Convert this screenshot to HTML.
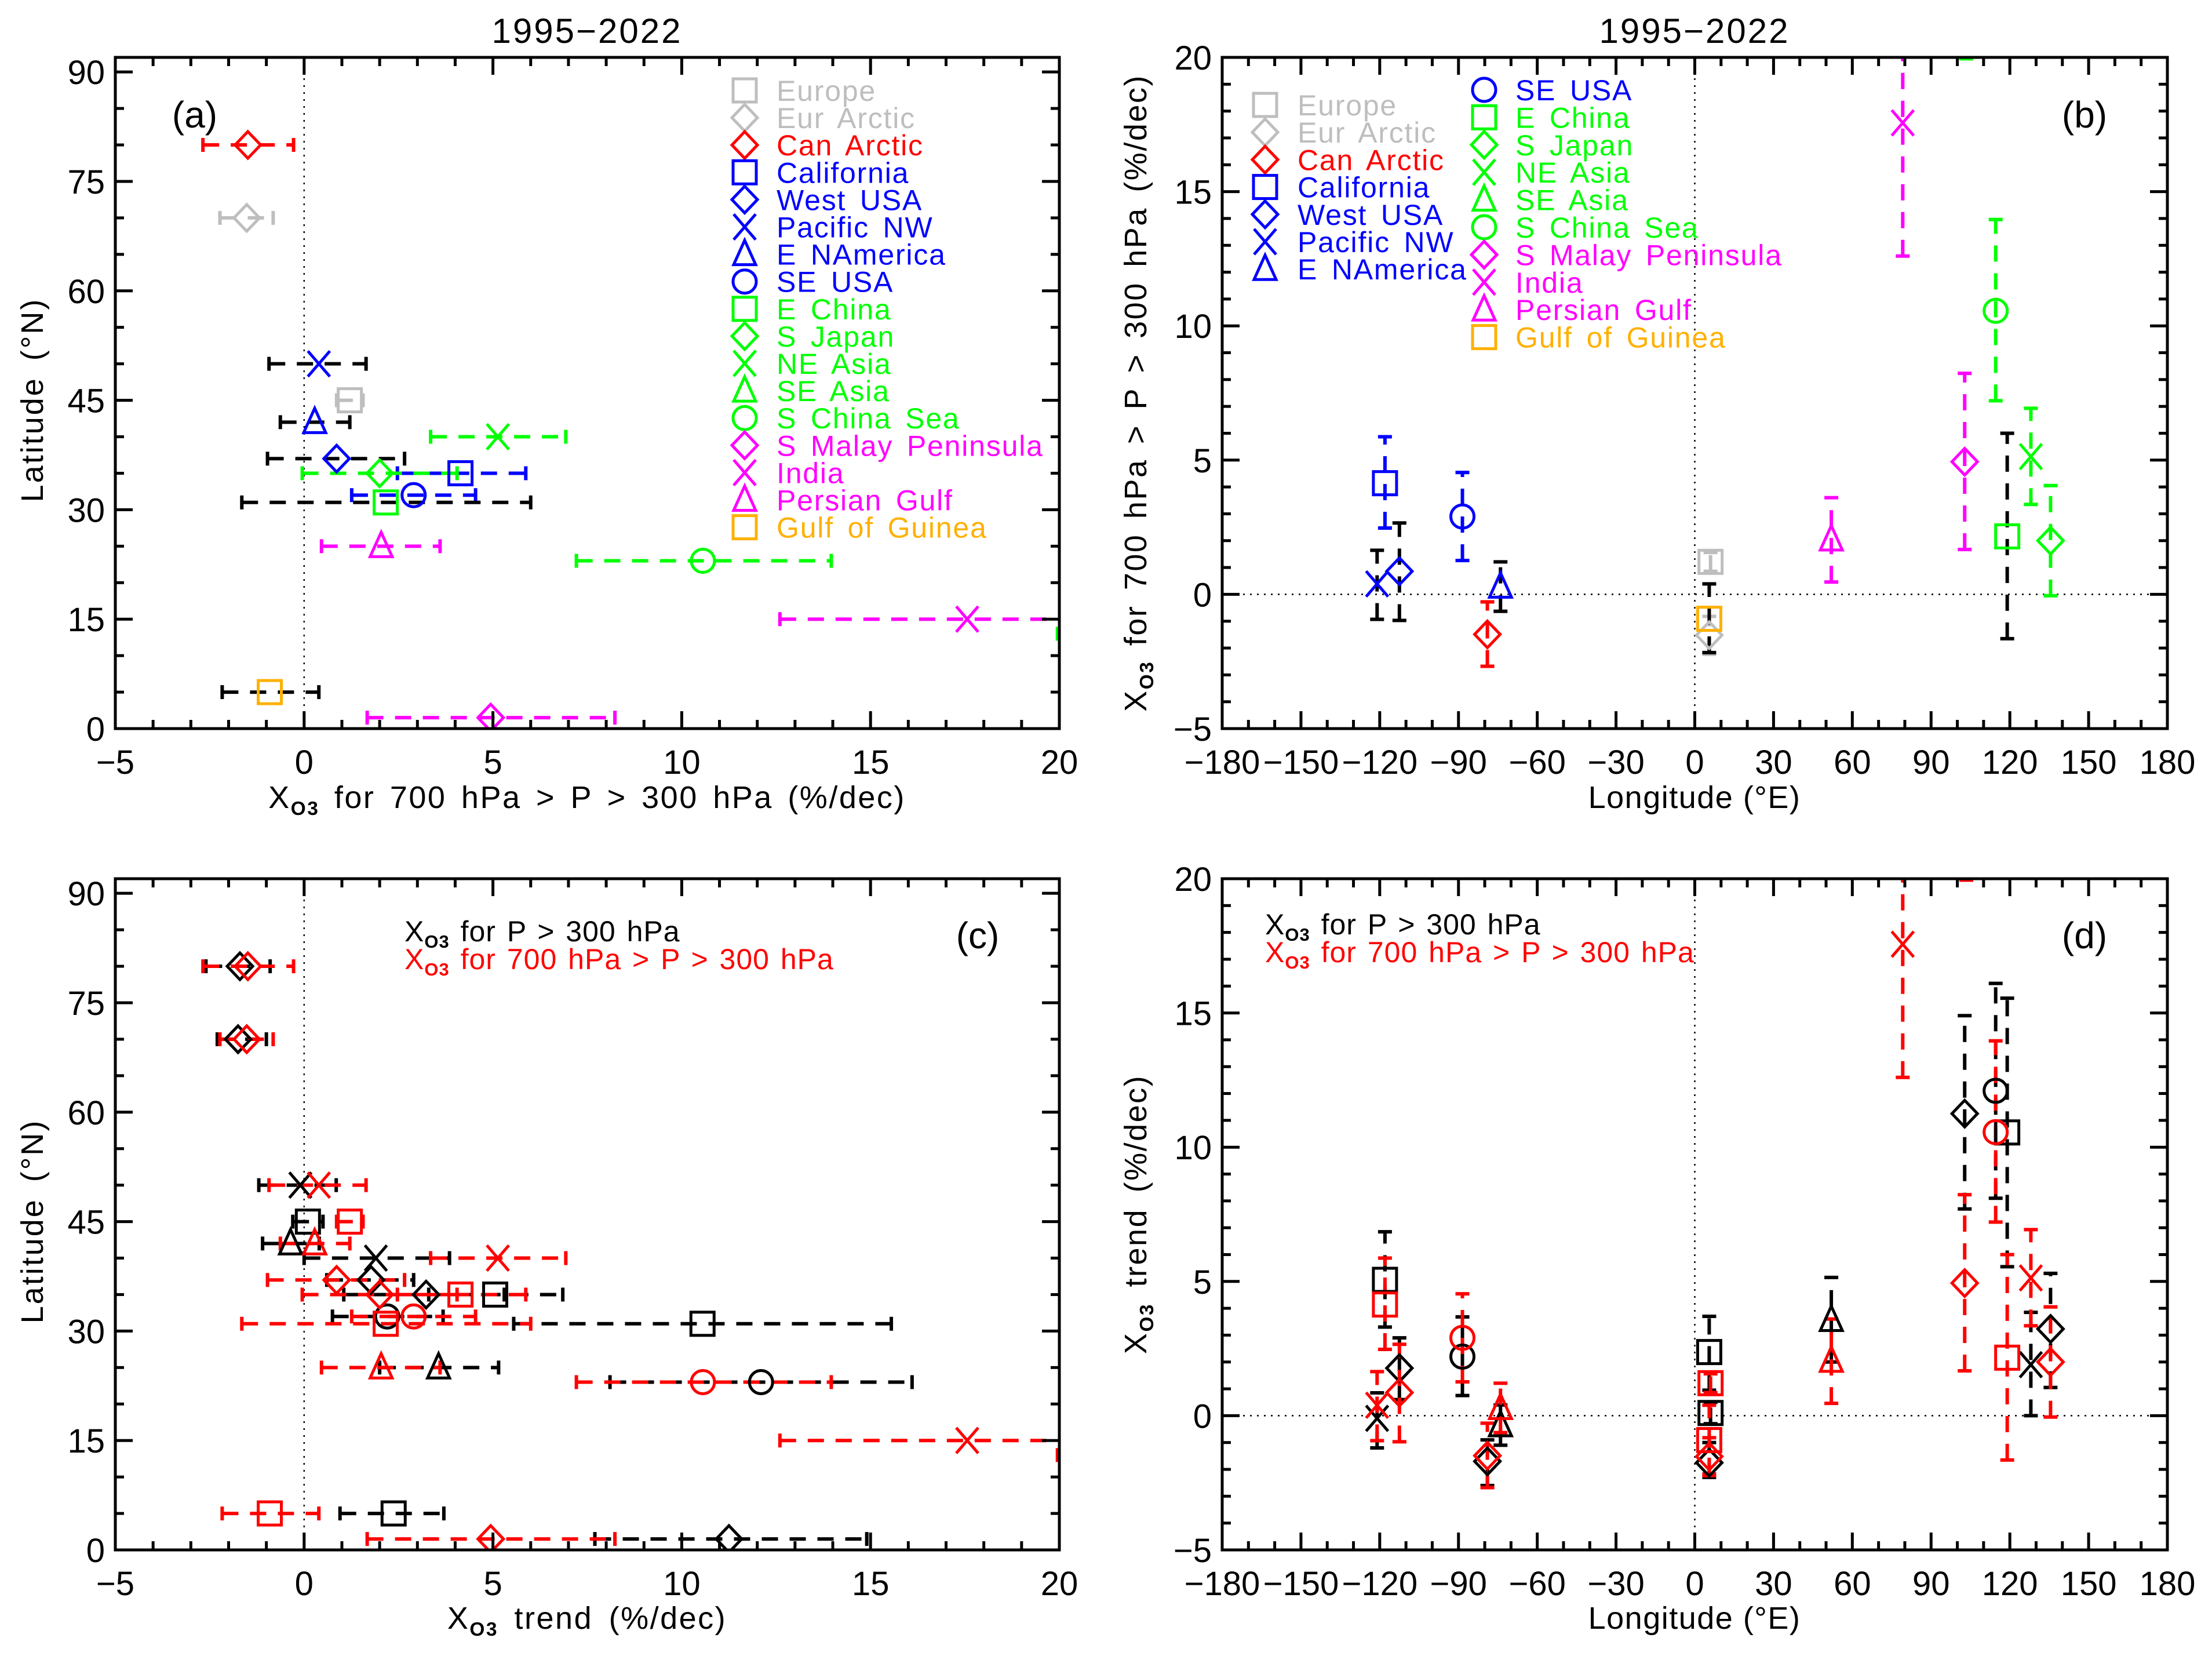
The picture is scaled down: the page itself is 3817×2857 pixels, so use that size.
<!DOCTYPE html>
<html><head><meta charset="utf-8"><title>XO3 trends 1995-2022</title>
<style>
html,body{margin:0;padding:0;background:#fff;}
svg{display:block;font-family:"Liberation Sans",sans-serif;}
</style></head>
<body>
<svg id="fig" width="3817" height="2857" viewBox="0 0 3817 2857" xmlns="http://www.w3.org/2000/svg">
<rect width="3817" height="2857" fill="#fff"/>
</svg>
<script>
// ---------- data ----------
const regionNames = ["Europe","Eur Arctic","Can Arctic","California","West USA","Pacific NW","E NAmerica","SE USA","E China","S Japan","NE Asia","SE Asia","S China Sea","S Malay Peninsula","India","Persian Gulf","Gulf of Guinea"];
const regionColors = ["#bebebe","#bebebe","#ff0000","#0000ff","#0000ff","#0000ff","#0000ff","#0000ff","#00ff00","#00ff00","#00ff00","#00ff00","#00ff00","#ff00ff","#ff00ff","#ff00ff","#ffb000"];
const regionSymbols = ["square","diamond","diamond","square","diamond","x","triangle","circle","square","diamond","x","triangle","circle","diamond","x","triangle","square"];
const regionLat = [45,70,80,35,37,50,42,32,31,35,40,13,23,1.5,15,25,5];
const regionLon = [6,5.5,-79,-118,-112.5,-121,-74,-88.5,119,135.5,128,103.4,114.6,102.8,79.2,52,5.5];
// mid-troposphere (700 hPa > P > 300 hPa) trends, %/dec
const midValue = [1.21,-1.52,-1.49,4.14,0.86,0.39,0.28,2.9,2.16,2.0,5.13,25,10.56,4.94,17.56,2.04,-0.91];
const midLow   = [0.86,-2.23,-2.68,2.47,-0.97,-0.93,-0.63,1.26,-1.65,-0.05,3.35,19.95,7.21,1.67,12.6,0.46,-2.17];
const midHigh  = [1.56,-0.82,-0.28,5.87,2.66,1.64,1.21,4.54,6.0,4.05,6.93,30,13.96,8.23,22.5,3.6,0.39];
const midBarColors = ["#bebebe","#bebebe","#ff0000","#0000ff","#000000","#000000","#000000","#0000ff","#000000","#00ff00","#00ff00","#00ff00","#00ff00","#ff00ff","#ff00ff","#ff00ff","#000000"];
// full troposphere (P > 300 hPa) trends, %/dec (null = not shown)
const fullValue = [0.1,-1.75,-1.7,5.06,1.77,-0.1,-0.36,2.2,10.55,3.23,1.9,null,12.1,11.25,null,3.56,2.37];
const fullLow   = [-0.3,-2.3,-2.6,3.3,0.6,-1.2,-1.1,0.75,5.55,1.05,0.0,null,8.1,7.7,null,2.0,0.95];
const fullHigh  = [0.5,-1.0,-0.9,6.85,2.9,0.85,0.4,3.68,15.55,5.3,3.85,null,16.1,14.9,null,5.15,3.7];
const trendTicksA = [-5,0,5,10,15,20];
const latTicks = [0,15,30,45,60,75,90];
const lonTicks = [-180,-150,-120,-90,-60,-30,0,30,60,90,120,150,180];
const trendTicksB = [-5,0,5,10,15,20];

// ---------- helpers ----------
const NS="http://www.w3.org/2000/svg";
const svg=document.getElementById('fig');
function mk(tag,attrs,parent){const e=document.createElementNS(NS,tag);for(const k in attrs)e.setAttribute(k,attrs[k]);(parent||svg).appendChild(e);return e;}
function fmt(v){return v<0?"\u2212"+Math.abs(v):String(v);}

function drawMarker(g,type,cx,cy,color){
  const sw=5;let e;
  if(type==="square"){e=mk('rect',{x:cx-20,y:cy-20,width:40,height:40,fill:'none',stroke:color,'stroke-width':sw},g);}
  else if(type==="diamond"){e=mk('polygon',{points:`${cx},${cy-23} ${cx+22},${cy} ${cx},${cy+23} ${cx-22},${cy}`,fill:'none',stroke:color,'stroke-width':sw},g);}
  else if(type==="circle"){e=mk('circle',{cx:cx,cy:cy,r:20,fill:'none',stroke:color,'stroke-width':sw},g);}
  else if(type==="triangle"){e=mk('polygon',{points:`${cx},${cy-24} ${cx+19},${cy+18} ${cx-19},${cy+18}`,fill:'none',stroke:color,'stroke-width':sw},g);}
  else {e=mk('path',{d:`M${cx-19},${cy-22}L${cx+19},${cy+22}M${cx-19},${cy+22}L${cx+19},${cy-22}`,fill:'none',stroke:color,'stroke-width':sw},g);}
  return e;
}

function makePanel(p,id){
  p.sx=v=>p.left+(v-p.xmin)/(p.xmax-p.xmin)*(p.right-p.left);
  p.sy=v=>p.bottom-(v-p.ymin)/(p.ymax-p.ymin)*(p.bottom-p.top);
  const defs=mk('defs',{});
  const cp=mk('clipPath',{id:'clip-'+id},defs);
  mk('rect',{x:p.left,y:p.top,width:p.right-p.left,height:p.bottom-p.top},cp);
  p.g=mk('g',{'clip-path':'url(#clip-'+id+')'});
  
  
  return p;
}

function drawAxes(p,id,xMajor,xMinorStep,yMajor,yMinorStep,xLabels){
  const ax=mk('g',{});
  
  
  const st={stroke:'#000','stroke-width':5};
  for(let v=p.xmin;v<=p.xmax+1e-9;v+=xMinorStep){
    const x=p.sx(v);const major=xMajor.some(m=>Math.abs(m-v)<1e-9);const L=major?30:15;
    mk('line',Object.assign({x1:x,x2:x,y1:p.bottom,y2:p.bottom-L},st),ax);
    mk('line',Object.assign({x1:x,x2:x,y1:p.top,y2:p.top+L},st),ax);
  }
  let y0=Math.ceil(p.ymin/yMinorStep)*yMinorStep;
  for(let v=y0;v<=p.ymax+1e-9;v+=yMinorStep){
    const y=p.sy(v);const major=yMajor.some(m=>Math.abs(m-v)<1e-9);const L=major?30:15;
    mk('line',Object.assign({x1:p.left,x2:p.left+L,y1:y,y2:y},st),ax);
    mk('line',Object.assign({x1:p.right,x2:p.right-L,y1:y,y2:y},st),ax);
  }
  mk('rect',{x:p.left,y:p.top,width:p.right-p.left,height:p.bottom-p.top,fill:'none',stroke:'#000','stroke-width':5},ax);
  if(xLabels){xMajor.forEach(v=>{const t=mk('text',{x:p.sx(v),y:p.bottom+78,'font-size':58,'text-anchor':'middle',fill:'#000'},ax);t.textContent=fmt(v);
    
    });}
  yMajor.forEach(v=>{const t=mk('text',{x:p.left-18,y:p.sy(v)+21,'font-size':58,'text-anchor':'end',fill:'#000'},ax);t.textContent=fmt(v);
    
    });
}

function zeroLines(p,vert,horiz){
  if(vert) mk('line',{x1:p.sx(0),x2:p.sx(0),y1:p.top,y2:p.bottom,stroke:'#000','stroke-width':2.5,'stroke-dasharray':'3 9'},p.g);
  if(horiz) mk('line',{x1:p.left,x2:p.right,y1:p.sy(0),y2:p.sy(0),stroke:'#000','stroke-width':2.5,'stroke-dasharray':'3 9'},p.g);
}

function hBar(p,lo,hi,y,color){
  const g=mk('g',{},p.g);
  
  
  const a=p.sx(lo),b=p.sx(hi);
  mk('line',{x1:a,x2:b,y1:y,y2:y,stroke:color,'stroke-width':6,'stroke-dasharray':'28 20'},g);
  mk('line',{x1:a,x2:a,y1:y-12,y2:y+12,stroke:color,'stroke-width':6},g);
  mk('line',{x1:b,x2:b,y1:y-12,y2:y+12,stroke:color,'stroke-width':6},g);
}
function vBar(p,lo,hi,x,color){
  const g=mk('g',{},p.g);
  
  
  const a=p.sy(lo),b=p.sy(hi);
  mk('line',{x1:x,x2:x,y1:a,y2:b,stroke:color,'stroke-width':6,'stroke-dasharray':'28 20'},g);
  mk('line',{x1:x-12,x2:x+12,y1:a,y2:a,stroke:color,'stroke-width':6},g);
  mk('line',{x1:x-12,x2:x+12,y1:b,y2:b,stroke:color,'stroke-width':6},g);
}

function textEl(x,y,size,str,opts,name){
  const t=mk('text',Object.assign({x:x,y:y,'font-size':size,fill:'#000'},opts||{}));
  t.textContent=str;
  
  
  return t;
}
function xo3Text(x,y,size,rest,opts,name,color){
  const t=mk('text',Object.assign({x:x,y:y,'font-size':size,fill:color||'#000'},opts||{}));
  
  
  const a=mk('tspan',{},t);a.textContent='X';
  const b=mk('tspan',{'font-size':size*0.62,dy:size*0.22,'font-weight':'bold'},t);b.textContent='O3';
  const c=mk('tspan',{dy:-size*0.22},t);c.textContent=rest;
  return t;
}

// ---------- panels ----------
const PA=makePanel({left:199,right:1828,top:99,bottom:1257,xmin:-5,xmax:20,ymin:0,ymax:92},'a');
const PB=makePanel({left:2109,right:3740,top:99,bottom:1257,xmin:-180,xmax:180,ymin:-5,ymax:20},'b');
const PC=makePanel({left:199,right:1828,top:1516,bottom:2674,xmin:-5,xmax:20,ymin:0,ymax:92},'c');
const PD=makePanel({left:2109,right:3740,top:1516,bottom:2674,xmin:-180,xmax:180,ymin:-5,ymax:20},'d');

zeroLines(PA,true,false);zeroLines(PC,true,false);
zeroLines(PB,true,true);zeroLines(PD,true,true);

// Panel a
regionNames.forEach((n,i)=>{hBar(PA,midLow[i],midHigh[i],PA.sy(regionLat[i]),midBarColors[i]);});
regionNames.forEach((n,i)=>{const m=drawMarker(PA.g,regionSymbols[i],PA.sx(midValue[i]),PA.sy(regionLat[i]),regionColors[i]);
  
  });
// Panel b
regionNames.forEach((n,i)=>{vBar(PB,midLow[i],midHigh[i],PB.sx(regionLon[i]),midBarColors[i]);});
regionNames.forEach((n,i)=>{const m=drawMarker(PB.g,regionSymbols[i],PB.sx(regionLon[i]),PB.sy(midValue[i]),regionColors[i]);
  
  });
// Panel c
regionNames.forEach((n,i)=>{if(fullValue[i]!==null)hBar(PC,fullLow[i],fullHigh[i],PC.sy(regionLat[i]),'#000');});
regionNames.forEach((n,i)=>{hBar(PC,midLow[i],midHigh[i],PC.sy(regionLat[i]),'#ff0000');});
regionNames.forEach((n,i)=>{if(fullValue[i]!==null){const m=drawMarker(PC.g,regionSymbols[i],PC.sx(fullValue[i]),PC.sy(regionLat[i]),'#000');
  
  }});
regionNames.forEach((n,i)=>{const m=drawMarker(PC.g,regionSymbols[i],PC.sx(midValue[i]),PC.sy(regionLat[i]),'#ff0000');
  
  });
// Panel d
regionNames.forEach((n,i)=>{if(fullValue[i]!==null)vBar(PD,fullLow[i],fullHigh[i],PD.sx(regionLon[i]),'#000');});
regionNames.forEach((n,i)=>{vBar(PD,midLow[i],midHigh[i],PD.sx(regionLon[i]),'#ff0000');});
regionNames.forEach((n,i)=>{if(fullValue[i]!==null){const m=drawMarker(PD.g,regionSymbols[i],PD.sx(regionLon[i]),PD.sy(fullValue[i]),'#000');
  
  }});
regionNames.forEach((n,i)=>{const m=drawMarker(PD.g,regionSymbols[i],PD.sx(regionLon[i]),PD.sy(midValue[i]),'#ff0000');
  
  });

// axes
drawAxes(PA,'a',trendTicksA,1,latTicks,5,true);
drawAxes(PC,'c',trendTicksA,1,latTicks,5,true);
drawAxes(PB,'b',lonTicks,10,trendTicksB,1,true);
drawAxes(PD,'d',lonTicks,10,trendTicksB,1,true);

// titles
textEl(1013,74,60,'1995\u22122022',{'text-anchor':'middle','letter-spacing':3},'title-a');
textEl(2924,74,60,'1995\u22122022',{'text-anchor':'middle','letter-spacing':3},'title-b');
// panel letters
textEl(336,220,64,'(a)',{'text-anchor':'middle'},'panel-label-a');
textEl(3597,220,64,'(b)',{'text-anchor':'middle'},'panel-label-b');
textEl(1687,1636,64,'(c)',{'text-anchor':'middle'},'panel-label-c');
textEl(3597,1636,64,'(d)',{'text-anchor':'middle'},'panel-label-d');
// axis titles
const axT={'text-anchor':'middle','letter-spacing':2.5,'word-spacing':8};
xo3Text(1013,1394,54,' for 700 hPa > P > 300 hPa  (%/dec)',axT,'x-axis-title-a');
textEl(2924,1394,54,'Longitude (\u00B0E)',{'text-anchor':'middle','letter-spacing':1.5},'x-axis-title-b');
xo3Text(1013,2810,54,' trend (%/dec)',{'text-anchor':'middle','letter-spacing':2.5,'word-spacing':10},'x-axis-title-c');
textEl(2924,2810,54,'Longitude (\u00B0E)',{'text-anchor':'middle','letter-spacing':1.5},'x-axis-title-d');
textEl(0,0,54,'Latitude (\u00B0N)',{'text-anchor':'middle','letter-spacing':3,'word-spacing':10,transform:'translate(74,690) rotate(-90)'},'y-axis-title-a');
textEl(0,0,54,'Latitude (\u00B0N)',{'text-anchor':'middle','letter-spacing':3,'word-spacing':10,transform:'translate(74,2107) rotate(-90)'},'y-axis-title-c');
xo3Text(0,0,54,' for 700 hPa > P > 300 hPa  (%/dec)',Object.assign({transform:'translate(1978,678) rotate(-90)'},axT),'y-axis-title-b');
xo3Text(0,0,54,' trend (%/dec)',{'text-anchor':'middle','letter-spacing':2.5,'word-spacing':10,transform:'translate(1978,2095) rotate(-90)'},'y-axis-title-d');

// legends a and b
function legendEntry(sx,tx,y,i,panel){
  const g=mk('g',{});
  
  
  drawMarker(g,regionSymbols[i],sx,y,regionColors[i]);
  const t=mk('text',{x:tx,y:y+18,'font-size':50,fill:regionColors[i],'letter-spacing':1.8,'word-spacing':8},g);
  t.textContent=regionNames[i];
}
regionNames.forEach((n,i)=>legendEntry(1285,1340,156+i*47.1,i,'a'));
regionNames.forEach((n,i)=>{
  if(i<7) legendEntry(2183,2239,181+i*47.2,i,'b');
  else legendEntry(2561,2615,155+(i-7)*47.4,i,'b');
});
// legends c and d
const lgT={'letter-spacing':1,'word-spacing':4};
xo3Text(698,1624,50,' for P > 300 hPa',lgT,'legend-c-full','#000');
xo3Text(698,1672,50,' for 700 hPa > P > 300 hPa',lgT,'legend-c-mid','#ff0000');
xo3Text(2183,1612,50,' for P > 300 hPa',lgT,'legend-d-full','#000');
xo3Text(2183,1660,50,' for 700 hPa > P > 300 hPa',lgT,'legend-d-mid','#ff0000');
</script>
</body></html>
